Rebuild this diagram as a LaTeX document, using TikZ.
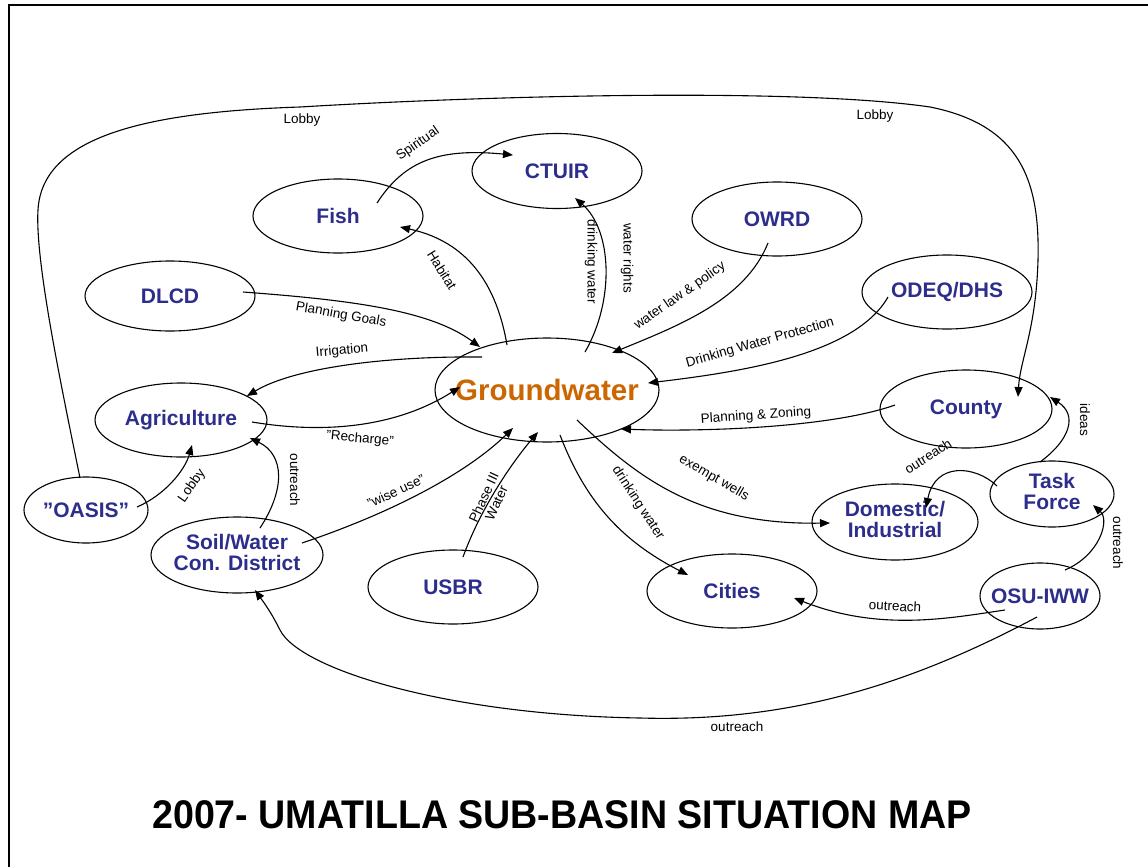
\documentclass[tikz,border=0pt]{standalone}
\usepackage{fontspec}
\setmainfont{Liberation Sans}
\usetikzlibrary{shapes.geometric,arrows.meta,calc}
\definecolor{navy}{RGB}{45,45,140}
\definecolor{gworange}{RGB}{204,102,0}
\newcommand{\dq}{\symbol{34}}
\begin{document}
\begin{tikzpicture}[x=1pt,y=-1pt,
  ell/.style={ellipse,draw,line width=1.1pt,inner sep=0pt,text=navy,
    font=\bfseries\fontsize{21}{23}\selectfont},
  conn/.style={line width=1.1pt,-{Triangle[length=10pt,width=8pt]}},
  lbl/.style={font=\fontsize{13.5}{14}\selectfont,inner sep=0pt,align=center}]
\useasboundingbox (0,0) rectangle (1148,867);
\fill[white] (0,0) rectangle (1148,867);
\draw[line width=1.2pt] (9,867) -- (9,5) -- (1148,5);

% nodes
\node[ell,minimum width=170,minimum height=75] (ctuir) at (557,171) {\makebox[0pt]{CTUIR}};
\node[ell,minimum width=170,minimum height=74] (fish) at (338,216) {\makebox[0pt]{Fish}};
\node[ell,minimum width=170,minimum height=74] (owrd) at (777,219) {\makebox[0pt]{OWRD}};
\node[ell,minimum width=170,minimum height=70] (dlcd) at (170,296) {\makebox[0pt]{DLCD}};
\node[ell,minimum width=170,minimum height=74] (odeq) at (947,292) {\makebox[0pt]{ODEQ/DHS}};
\node[ell,minimum width=224,minimum height=104,text=gworange,font=\bfseries\fontsize{29.5}{31}\selectfont] (gw) at (547,390) {\makebox[0pt]{Groundwater}};
\node[ell,minimum width=172,minimum height=74] (agri) at (181,420) {\makebox[0pt]{Agriculture}};
\node[ell,minimum width=172,minimum height=78] (county) at (966,409) {\makebox[0pt]{County}};
\node[ell,minimum width=124,minimum height=66] (task) at (1052,494) {\makebox[0pt]{\begin{tabular}{@{}c@{}}Task\\[-2pt]Force\end{tabular}}};
\node[ell,minimum width=166,minimum height=76] (dom) at (895,522) {\makebox[0pt]{\begin{tabular}{@{}c@{}}Domestic/\\[-2pt]Industrial\end{tabular}}};
\node[ell,minimum width=124,minimum height=66] (oasis) at (86,510) {\makebox[0pt]{\dq OASIS\dq}};
\node[ell,minimum width=172,minimum height=76] (soil) at (237,555) {\makebox[0pt]{\begin{tabular}{@{}c@{}}Soil/Water\\[-2pt]Con. District\end{tabular}}};
\node[ell,minimum width=170,minimum height=74] (usbr) at (453,587) {\makebox[0pt]{USBR}};
\node[ell,minimum width=170,minimum height=74] (cities) at (732,591) {\makebox[0pt]{Cities}};
\node[ell,minimum width=120,minimum height=66] (osu) at (1040,596) {\makebox[0pt]{OSU-IWW}};

% Lobby loop
\draw[conn] ($(oasis)+(-6,-32)$) .. controls (60,380) and (35,260) .. (38,210)
  .. controls (42,135) and (150,112) .. (300,107)
  .. controls (500,95) and (800,88) .. (930,107)
  .. controls (1020,125) and (1040,180) .. (1038,260)
  .. controls (1036,330) and (1020,360) .. ($(county)+(52,-12)$);
\node[lbl] (l1) at (302,120) {Lobby};
\node[lbl] (l2) at (875,116) {Lobby};

% Fish -> CTUIR
\draw[conn] ($(fish)+(39,-13)$) .. controls (405,160) and (440,148) .. ($(ctuir)+(-44,-16)$);
\node[lbl,rotate=35] (l3) at (418,144) {Spiritual};

% GW -> Fish
\draw[conn] ($(gw)+(-40,-45)$) .. controls (495,275) and (460,240) .. ($(fish)+(62,11)$);
\node[lbl,rotate=-58] (l4) at (442,270) {Habitat};

% GW -> CTUIR
\draw[conn] ($(gw)+(38,-38)$) .. controls (615,300) and (612,230) .. ($(ctuir)+(18,27)$);
\node[lbl,rotate=-90] (l5) at (591,262) {drinking water};
\node[lbl,rotate=-90] (l6) at (627,258) {water rights};

% OWRD -> GW
\draw[conn] ($(owrd)+(-9,24)$) .. controls (745,300) and (680,325) .. ($(gw)+(65,-37)$);
\node[lbl,rotate=35] (l7) at (680,296) {water law \& policy};

% ODEQ -> GW
\draw[conn] ($(odeq)+(-59,5)$) .. controls (855,355) and (740,372) .. ($(gw)+(101,-7)$);
\node[lbl,rotate=16] (l8) at (760,343) {Drinking Water Protection};

% DLCD -> GW
\draw[conn] ($(dlcd)+(73,-4)$) .. controls (350,300) and (430,310) .. ($(gw)+(-67,-43)$);
\node[lbl,rotate=-10] (l9) at (341,315) {Planning Goals};

% GW -> Agriculture
\draw[conn] ($(gw)+(-65,-33)$) -- (458,357) .. controls (370,358) and (290,370) .. ($(agri)+(66,-24)$);
\node[lbl,rotate=5] (l10) at (342,351) {Irrigation};

% Agriculture -> GW
\draw[conn] ($(agri)+(71,2)$) .. controls (330,435) and (400,425) .. ($(gw)+(-87,-3)$);
\node[lbl,rotate=-5] (l11) at (360,439) {\dq Recharge\dq};

% County -> GW
\draw[conn] ($(county)+(-71,-4)$) .. controls (830,428) and (700,432) .. ($(gw)+(74,39)$);
\node[lbl,rotate=4] (l12) at (756,416) {Planning \& Zoning};

% GW -> Domestic
\draw[conn] ($(gw)+(30,30)$) .. controls (640,480) and (700,525) .. ($(dom)+(-65,1)$);
\node[lbl,rotate=-30] (l13) at (714,478) {exempt wells};

% GW -> Cities
\draw[conn] ($(gw)+(13,45)$) .. controls (585,500) and (620,540) .. ($(cities)+(-44,-16)$);
\node[lbl,rotate=-57] (l14) at (638,503) {drinking water};

% Soil -> GW
\draw[conn] ($(soil)+(65,-12)$) .. controls (400,510) and (470,470) .. ($(gw)+(-34,38)$);
\node[lbl,rotate=25] (l15) at (396,491) {\dq wise use\dq};

% USBR -> GW
\draw[conn] ($(usbr)+(10,-30)$) .. controls (480,510) and (510,465) .. ($(gw)+(-9,42)$);
\node[lbl,rotate=65] (l16) at (490,500) {Phase III\\Water};

% OASIS -> Agriculture
\draw[conn] ($(oasis)+(51,-3)$) .. controls (165,495) and (185,470) .. ($(agri)+(11,25)$);
\node[lbl,rotate=55] (l17) at (192,486) {Lobby};

% Soil -> Agriculture
\draw[conn] ($(soil)+(23,-27)$) .. controls (285,490) and (285,455) .. ($(agri)+(69,18)$);
\node[lbl,rotate=-90] (l18) at (295,480) {outreach};

% Task Force -> Domestic
\draw[conn] ($(task)+(-55,-8)$) .. controls (975,465) and (935,462) .. ($(dom)+(31,-14)$);
\node[lbl,rotate=32] (l19) at (928,456) {outreach};

% Task Force -> County
\draw[conn] ($(task)+(-12,-32)$) .. controls (1070,440) and (1078,415) .. ($(county)+(84,-12)$);
\node[lbl,rotate=-90] (l20) at (1085,420) {ideas};

% OSU -> Task Force
\draw[conn] ($(osu)+(25,-26)$) .. controls (1100,555) and (1110,520) .. ($(task)+(41,11)$);
\node[lbl,rotate=-90] (l21) at (1118,543) {outreach};

% OSU -> Cities
\draw[conn] ($(osu)+(-35,14)$) .. controls (950,618) and (880,632) .. ($(cities)+(62,7)$);
\node[lbl,rotate=-3] (l22) at (895,606) {outreach};

% OSU -> Soil
\draw[conn] ($(osu)+(-3,21)$) .. controls (900,690) and (780,722) .. (640,718)
  .. controls (450,715) and (300,670) .. (280,630)
  .. controls (270,610) and (262,600) .. ($(soil)+(18,35)$);
\node[lbl] (l23) at (737,727) {outreach};

% title
\node[font=\bfseries\fontsize{40}{42}\selectfont,inner sep=0pt] (title) at (562,815)
  {\scalebox{0.94}[1]{2007- UMATILLA SUB-BASIN SITUATION MAP}};
\end{tikzpicture}
\end{document}
